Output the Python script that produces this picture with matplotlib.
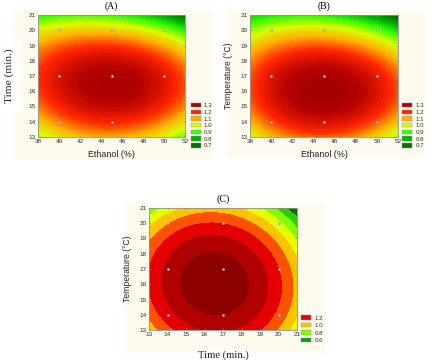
import numpy as np
import matplotlib.pyplot as plt
from matplotlib.colors import LinearSegmentedColormap, Normalize
from matplotlib.patches import Patch, Rectangle

# experimental design points (3x3)
ethanol_pts = [40, 45, 50]
time_pts = [14, 17, 20]
temp_pts = [14, 17, 20]

# response on a coarse grid (rows = y values)
grid_x_AB = [38, 41, 44, 47, 50, 52]
grid_y_AB = [13, 15, 17, 19, 20, 21]
read_A = [
    [0.97, 1.05, 1.09, 1.08, 1.01, 0.93],
    [1.13, 1.23, 1.27, 1.25, 1.18, 1.11],
    [1.20, 1.29, 1.33, 1.30, 1.23, 1.16],
    [1.08, 1.17, 1.21, 1.18, 1.10, 1.02],
    [0.96, 1.03, 1.06, 1.03, 0.96, 0.86],
    [0.93, 0.90, 0.88, 0.84, 0.77, 0.68],
]
read_B = [
    [1.00, 1.10, 1.14, 1.12, 1.05, 0.98],
    [1.15, 1.27, 1.31, 1.29, 1.22, 1.12],
    [1.15, 1.28, 1.33, 1.31, 1.23, 1.13],
    [1.02, 1.13, 1.18, 1.15, 1.07, 0.97],
    [0.92, 1.02, 1.05, 1.02, 0.95, 0.85],
    [0.88, 0.86, 0.85, 0.80, 0.74, 0.66],
]
# panel C: quadratic read from ring radii
# [x centre, y centre, peak, x curvature, y curvature, interaction]
coef_C = [16.55, 16.05, 1.37, 0.0208, 0.0172, -0.0020]

# legend entries
legend_AB = [1.3, 1.2, 1.1, 1.0, 0.9, 0.8, 0.7]
legend_C = [1.2, 1.0, 0.8, 0.6]

# statistica-like colour ramp
ramp_vals = [0.6, 0.7, 0.8, 0.9, 1.0, 1.1, 1.2, 1.3, 1.4]
ramp_cols = ['#005800', '#007400', '#00b400', '#38ff00', '#d8ff00',
             '#ffb000', '#ff2400', '#b00000', '#8a0000']
lo, hi = ramp_vals[0], ramp_vals[-1]
cmap = LinearSegmentedColormap.from_list(
    'stat', [((v - lo) / (hi - lo), c) for v, c in zip(ramp_vals, ramp_cols)])
norm = Normalize(lo, hi)

# panel C uses coarse bands
levels_C = [0.4, 0.6, 0.7, 0.8, 0.9, 1.0, 1.1, 1.2, 1.3, 1.5]
colors_C = ['#007800', '#2ecc00', '#80ff00', '#e4ff00', '#ffc400',
            '#ff5200', '#e40000', '#b00000', '#8c0000']
legcols_C = ['#ee0000', '#ffc000', '#80ff00', '#00a800']

W, H = 438, 360
fig = plt.figure(figsize=(W / 100, H / 100), dpi=100)
SANS = 'Liberation Sans'
SERIF = 'Liberation Serif'


def px_box(l, t, r, b):
    return [l / W, 1 - b / H, (r - l) / W, (b - t) / H]


def backdrop(l, t, r, b, color):
    x, y, w, h = px_box(l, t, r, b)
    fig.patches.append(Rectangle((x, y), w, h, transform=fig.transFigure,
                                 facecolor=color, edgecolor='none', zorder=-5))


cream = '#fffaee'
backdrop(13, 10, 213, 160, cream)
backdrop(0, 42, 21, 112, 'white')
backdrop(227, 10, 425, 157, cream)
backdrop(125, 203, 326, 353, cream)


def cubic_basis(u, v):
    return np.stack([np.ones_like(u), u, v, u * u, u * v, v * v,
                     u ** 3, u * u * v, u * v * v, v ** 3], axis=-1)


def fitted_surface(gx, gy, read, xlim, ylim):
    # smooth cubic surface through the read grid values (least squares)
    GX, GY = np.meshgrid(gx, gy)
    cx, sx = np.mean(xlim), (xlim[1] - xlim[0]) / 2
    cy, sy = np.mean(ylim), (ylim[1] - ylim[0]) / 2
    A = cubic_basis(((GX - cx) / sx).ravel(), ((GY - cy) / sy).ravel())
    k, *_ = np.linalg.lstsq(A, np.asarray(read).ravel(), rcond=None)
    X, Y = np.meshgrid(np.linspace(*xlim, 300), np.linspace(*ylim, 300))
    Z = cubic_basis((X - cx) / sx, (Y - cy) / sy) @ k
    return X, Y, Z


def quad_surface(coef, xlim, ylim):
    xc, yc, peak, a, b, c = coef
    X, Y = np.meshgrid(np.linspace(*xlim, 300), np.linspace(*ylim, 300))
    dx, dy = X - xc, Y - yc
    return X, Y, peak - a * dx ** 2 - b * dy ** 2 + c * dx * dy


def style_axes(ax, xlim, ylim, xticks, yticks):
    ax.set_xlim(xlim)
    ax.set_ylim(ylim)
    ax.set_xticks(xticks)
    ax.set_yticks(yticks)
    ax.tick_params(direction='in', length=1.5, width=0.4, color='#909090',
                   labelsize=4.6, pad=1.5, top=True, right=True,
                   labelcolor='#333333')
    for lab in ax.get_xticklabels() + ax.get_yticklabels():
        lab.set_family(SANS)
    for s in ax.spines.values():
        s.set_color('#909090')
        s.set_linewidth(0.6)


def add_points(ax, xs, ys):
    X, Y = np.meshgrid(xs, ys)
    ax.scatter(X.ravel(), Y.ravel(), s=3, c='#d8d0ff', edgecolors='#8080a0',
               linewidths=0.3, zorder=5)


def add_legend(ax, values, colors, anchor, spacing):
    handles = [Patch(facecolor=c, edgecolor='#909090', linewidth=0.3)
               for c in colors]
    leg = ax.legend(handles, [f'{v:.1f}' for v in values], loc='upper left',
                    bbox_to_anchor=anchor, frameon=False, borderpad=0,
                    borderaxespad=0, handlelength=1.6, handleheight=0.75,
                    handletextpad=0.5, labelspacing=spacing,
                    prop={'family': SANS, 'size': 4.4})
    for t in leg.get_texts():
        t.set_color('#333333')


fine_levels = np.arange(0.5, 1.45, 0.0125)

# ---- panel A
axA = fig.add_axes(px_box(38, 15, 185, 137))
X, Y, Z = fitted_surface(grid_x_AB, grid_y_AB, read_A, (38, 52), (13, 21))
axA.contourf(X, Y, Z, levels=fine_levels, cmap=cmap, norm=norm)
add_points(axA, ethanol_pts, time_pts)
style_axes(axA, (38, 52), (13, 21), range(38, 53, 2), range(13, 22))
axA.set_xlabel('Ethanol (%)', family=SANS, fontsize=6.4, color='#222222')
axA.xaxis.set_label_coords(0.5, -0.11)
axA.set_ylabel('Time (min.)', family=SERIF, fontsize=8.2, color='#222222')
axA.yaxis.set_label_coords(-0.165, 0.5)
axA.set_title('(A)', family=SERIF, fontsize=7, y=1.055, pad=0)
add_legend(axA, legend_AB, [cmap(norm(v)) for v in legend_AB], (1.04, 0.28), 0.22)

# ---- panel B
axB = fig.add_axes(px_box(250, 15, 398, 137))
X, Y, Z = fitted_surface(grid_x_AB, grid_y_AB, read_B, (38, 52), (13, 21))
axB.contourf(X, Y, Z, levels=fine_levels, cmap=cmap, norm=norm)
add_points(axB, ethanol_pts, temp_pts)
style_axes(axB, (38, 52), (13, 21), range(38, 53, 2), range(13, 22))
axB.set_xlabel('Ethanol (%)', family=SANS, fontsize=6.4, color='#222222')
axB.xaxis.set_label_coords(0.5, -0.11)
axB.set_ylabel('Temperature (°C)', family=SANS, fontsize=6.2, color='#222222')
axB.yaxis.set_label_coords(-0.115, 0.5)
axB.set_title('(B)', family=SERIF, fontsize=7, y=1.055, pad=0)
add_legend(axB, legend_AB, [cmap(norm(v)) for v in legend_AB], (1.03, 0.28), 0.22)

# ---- panel C
axC = fig.add_axes(px_box(149, 208, 297, 330))
X, Y, Z = quad_surface(coef_C, (13, 21), (13, 21))
axC.contourf(X, Y, Z, levels=levels_C, colors=colors_C)
add_points(axC, time_pts, temp_pts)
style_axes(axC, (13, 21), (13, 21), range(13, 22), range(13, 22))
axC.set_xlabel('Time (min.)', family=SERIF, fontsize=7.6, color='#222222',
               bbox=dict(facecolor='white', edgecolor='none', pad=1))
axC.xaxis.set_label_coords(0.5, -0.165)
axC.set_ylabel('Temperature (°C)', family=SANS, fontsize=6.2, color='#222222')
axC.yaxis.set_label_coords(-0.117, 0.5)
axC.set_title('(C)', family=SERIF, fontsize=7.2, y=1.055, pad=0)
add_legend(axC, legend_C, legcols_C, (1.03, 0.12), 0.35)

fig.savefig('out.png', dpi=100)
